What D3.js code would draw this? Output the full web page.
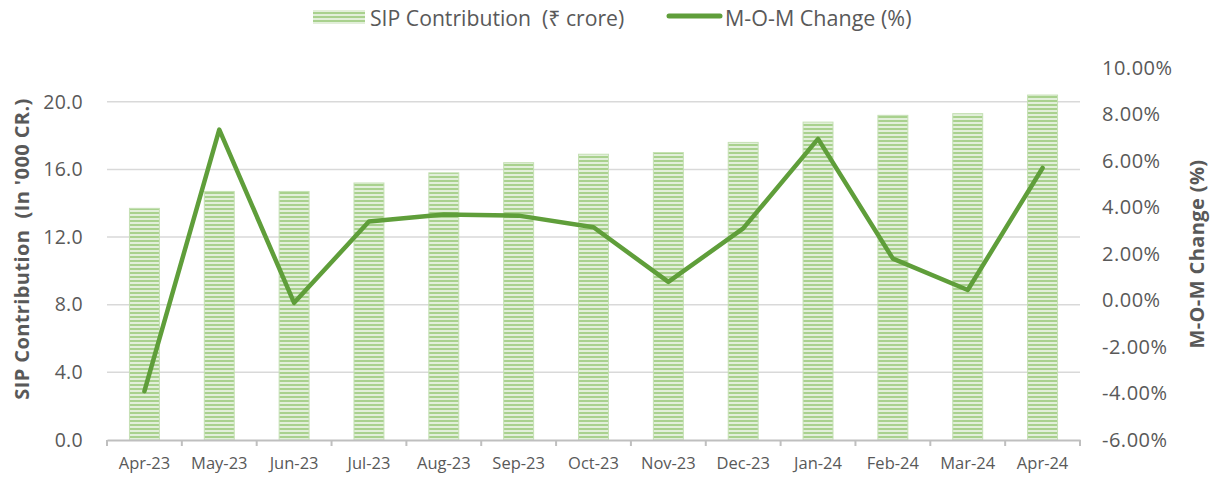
<!DOCTYPE html>
<html>
<head>
<meta charset="utf-8">
<script src="https://cdn.jsdelivr.net/npm/d3@7"></script>
<style>
  body { margin: 0; background: #fff; }
  text { font-family: "Open Sans", "Noto Sans", sans-serif; fill: #595959; white-space: pre; }
</style>
</head>
<body>
<div id="chart"></div>
<script>
// data
var months = ["Apr-23", "May-23", "Jun-23", "Jul-23", "Aug-23", "Sep-23", "Oct-23",
    "Nov-23", "Dec-23", "Jan-24", "Feb-24", "Mar-24", "Apr-24"];
var sipValues = [13.7, 14.7, 14.7, 15.2, 15.8, 16.4, 16.9, 17.0, 17.6, 18.8, 19.2, 19.3, 20.4];
var momChange = [-3.9, 7.35, -0.1, 3.4, 3.7, 3.65, 3.15, 0.8, 3.1, 6.95, 1.8, 0.45, 5.7];
var leftTicks = [0, 4, 8, 12, 16, 20];
var rightTicks = [-6, -4, -2, 0, 2, 4, 6, 8, 10];

var svgWidth = 1220;
var svgHeight = 480;

var margin = { top: 68, right: 140, bottom: 40, left: 107 };
var chartWidth = svgWidth - margin.left - margin.right;
var chartHeight = svgHeight - margin.top - margin.bottom;

var svg = d3.select("#chart")
    .append("svg")
    .attr("width", svgWidth)
    .attr("height", svgHeight);

// striped fill for bars
var defs = svg.append("defs");
var pat = defs.append("pattern")
    .attr("id", "stripes")
    .attr("patternUnits", "userSpaceOnUse")
    .attr("width", 8)
    .attr("height", 4);
pat.append("rect").attr("width", 8).attr("height", 4).attr("fill", "#e2efda");
pat.append("rect").attr("width", 8).attr("height", 2).attr("fill", "#a9d18e");

var chartGroup = svg.append("g")
    .attr("transform", `translate(${margin.left},${margin.top})`);

var xScale = d3.scaleBand()
    .domain(months)
    .range([0, chartWidth])
    .paddingInner(0.6)
    .paddingOuter(0.3);

var yLeft = d3.scaleLinear()
    .domain([0, 22])
    .range([chartHeight, 0]);

var yRight = d3.scaleLinear()
    .domain([-6, 10])
    .range([chartHeight, 0]);

// gridlines
chartGroup.append("g")
    .selectAll("line")
    .data(leftTicks.filter(d => d > 0))
    .enter()
    .append("line")
    .attr("x1", 0)
    .attr("x2", chartWidth)
    .attr("y1", d => yLeft(d))
    .attr("y2", d => yLeft(d))
    .attr("stroke", "#d9d9d9")
    .attr("stroke-width", 1.5);

// left axis
var leftAxis = d3.axisLeft(yLeft)
    .tickValues(leftTicks)
    .tickFormat(d3.format(".1f"))
    .tickSize(0)
    .tickPadding(24);

var gLeft = chartGroup.append("g").call(leftAxis);
gLeft.select(".domain").remove();
gLeft.selectAll("text").attr("font-size", "19.5px").attr("fill", "#595959")
    .attr("letter-spacing", "0.3px");

// right axis
var rightAxis = d3.axisRight(yRight)
    .tickValues(rightTicks)
    .tickFormat(d => d.toFixed(2) + "%")
    .tickSize(0)
    .tickPadding(22);

var gRight = chartGroup.append("g")
    .attr("transform", `translate(${chartWidth},0)`)
    .call(rightAxis);
gRight.select(".domain").remove();
gRight.selectAll("text").attr("font-size", "20px").attr("fill", "#595959")
    .attr("letter-spacing", "0.5px");

// bars
chartGroup.selectAll(".bar")
    .data(sipValues)
    .enter()
    .append("rect")
    .attr("class", "bar")
    .attr("x", (d, i) => xScale(months[i]))
    .attr("y", d => yLeft(d))
    .attr("width", xScale.bandwidth())
    .attr("height", d => chartHeight - yLeft(d))
    .attr("fill", "url(#stripes)")
    .attr("stroke", "#c5e0b4")
    .attr("stroke-width", 1);

// bottom axis
var bottomAxis = d3.axisBottom(xScale).tickSize(0).tickPadding(17);
var gBottom = chartGroup.append("g")
    .attr("transform", `translate(0,${chartHeight})`)
    .call(bottomAxis);
gBottom.select(".domain").attr("stroke", "#bfbfbf").attr("stroke-width", 2);
gBottom.selectAll("text").attr("font-size", "16.5px").attr("fill", "#404040");

// category boundary ticks
gBottom.selectAll(".sep")
    .data(d3.range(months.length + 1))
    .enter()
    .append("line")
    .attr("class", "sep")
    .attr("x1", i => i * xScale.step())
    .attr("x2", i => i * xScale.step())
    .attr("y1", 0)
    .attr("y2", 6)
    .attr("stroke", "#bfbfbf")
    .attr("stroke-width", 2);

// line
var line = d3.line()
    .x((d, i) => xScale(months[i]) + xScale.bandwidth() / 2)
    .y(d => yRight(d));

chartGroup.append("path")
    .datum(momChange)
    .attr("d", line)
    .attr("fill", "none")
    .attr("stroke", "#5f9e3a")
    .attr("stroke-width", 4.5)
    .attr("stroke-linejoin", "round")
    .attr("stroke-linecap", "round");

// axis titles
svg.append("text")
    .attr("transform", "translate(29,249) rotate(-90)")
    .attr("text-anchor", "middle")
    .attr("font-size", "20px")
    .attr("font-weight", "bold")
    .attr("letter-spacing", "0.4px")
    .text("SIP Contribution  (In '000 CR.)");

svg.append("text")
    .attr("transform", "translate(1204,254) rotate(-90)")
    .attr("text-anchor", "middle")
    .attr("font-size", "20px")
    .attr("font-weight", "bold")
    .attr("letter-spacing", "0.4px")
    .text("M-O-M Change (%)");

// legend
var legend = svg.append("g");
legend.append("rect")
    .attr("x", 313).attr("y", 10)
    .attr("width", 52).attr("height", 14)
    .attr("fill", "url(#stripes)");
legend.append("text")
    .attr("x", 370).attr("y", 26)
    .attr("font-size", "21.2px")
    .text("SIP Contribution  (\u20B9 crore)");
legend.append("line")
    .attr("x1", 669).attr("x2", 720)
    .attr("y1", 16).attr("y2", 16)
    .attr("stroke", "#5f9e3a")
    .attr("stroke-width", 5)
    .attr("stroke-linecap", "round");
legend.append("text")
    .attr("x", 725).attr("y", 26)
    .attr("font-size", "21.5px")
    .text("M-O-M Change (%)");
</script>
</body>
</html>
